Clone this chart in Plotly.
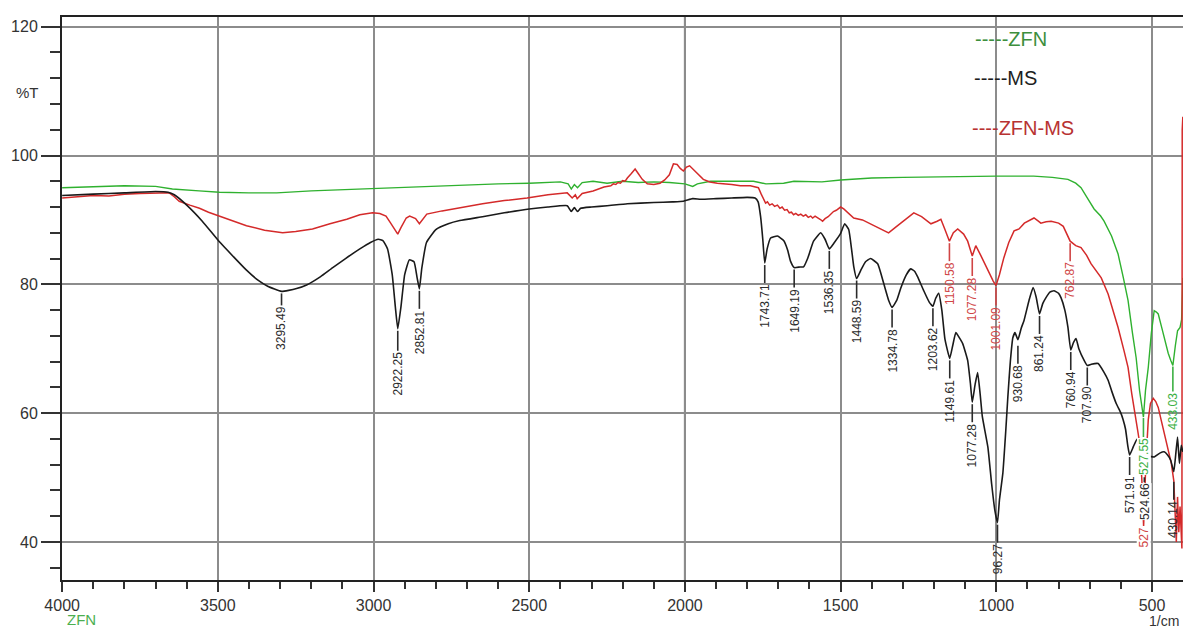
import numpy as np
import plotly.graph_objects as go

# ---- FTIR spectra: wavenumber (1/cm) and transmittance (%T) ----
ms_wn = [4000, 3900, 3800, 3700, 3660, 3640, 3600, 3550, 3495, 3450, 3408, 3370, 3340,
         3295.49, 3250, 3215, 3170, 3131, 3090, 3044, 3010, 2985, 2970, 2955, 2940, 2930,
         2922.25, 2912, 2900, 2885, 2870, 2860, 2852.81, 2845, 2830, 2800, 2760, 2723,
         2650, 2580, 2500, 2440, 2378, 2365, 2355, 2345, 2335, 2300, 2250, 2185, 2100,
         2040, 2005, 1975, 1950, 1900, 1850, 1800, 1775, 1765, 1757, 1750, 1743.71, 1736,
         1725, 1703, 1683, 1670, 1661, 1649.19, 1630, 1619, 1606, 1587, 1564, 1550,
         1536.35, 1520, 1500, 1487, 1474, 1465, 1458, 1448.59, 1435, 1420, 1404, 1381,
         1362, 1345, 1334.78, 1320, 1307, 1290, 1275, 1262, 1253, 1233, 1215, 1203.62,
         1195, 1185, 1175, 1165, 1149.61, 1140, 1130, 1120, 1108, 1092, 1083, 1077.28,
         1068, 1060, 1052, 1045, 1027, 1015, 1005, 996.27, 990, 979, 970, 963, 955, 947,
         940, 930.68, 920, 911, 895, 882, 872, 861.24, 851, 841, 828, 815, 800, 792, 780,
         770, 760.94, 752, 744, 735, 718, 707.90, 695, 673, 655, 641, 630, 615, 600, 593,
         585, 578, 571.91, 560, 548, 538, 530, 524.66, 510, 493, 475, 461, 450, 440,
         430.14, 425, 418, 412, 406, 401]
ms_t = [93.8, 94.0, 94.2, 94.4, 94.3, 93.9, 92.3, 89.8, 86.6, 84.3, 82.2, 80.6, 79.7,
        78.9, 79.3, 79.9, 81.2, 82.6, 84.0, 85.5, 86.5, 87.0, 86.8, 85.5, 81.5, 76.5,
        73.1, 76.5, 81.5, 83.8, 83.5, 81.0, 79.3, 82.5, 86.5, 88.5, 89.4, 89.9,
        90.5, 91.1, 91.7, 92.0, 92.2, 91.3, 91.9, 91.3, 91.8, 92.0, 92.2, 92.5, 92.7,
        92.8, 92.9, 93.3, 93.2, 93.3, 93.4, 93.5, 93.4, 92.8, 90.5, 87.0, 83.3, 85.5,
        87.2, 87.5, 86.8, 85.3, 83.6, 82.6, 82.7, 82.7, 84.0, 86.7, 88.0, 87.0,
        85.5, 86.5, 87.9, 89.4, 88.5, 85.5, 82.8, 80.9, 82.2, 83.5, 84.0, 83.2,
        80.2, 77.4, 76.4, 77.5, 79.4, 81.4, 82.4, 82.0, 81.2, 79.0, 77.2, 76.6,
        77.8, 78.6, 76.0, 71.5, 68.5, 70.5, 72.5, 71.8, 70.8, 68.2, 64.5, 61.7,
        64.5, 66.3, 63.0, 59.5, 54.7, 49.0, 45.0, 43.0, 46.5, 50.7, 57.0, 62.5, 68.0, 71.7,
        72.5, 71.4, 73.2, 74.4, 77.5, 79.5, 78.0, 75.4, 77.0, 77.9, 78.8, 79.0, 78.6, 77.9, 76.0,
        73.3, 69.8, 71.0, 71.6, 70.0, 68.2, 67.4, 67.6, 67.7, 66.4, 65.1, 63.5, 61.5, 60.0, 59.0,
        57.5, 55.0, 53.5, 54.8, 56.0, 54.5, 53.5, 53.0, 53.3, 53.2, 53.8, 54.0, 53.5, 52.7,
        50.9, 53.0, 56.3, 52.2, 55.0, 54.0]

zfn_wn = [4000, 3900, 3800, 3700, 3646, 3560, 3495, 3400, 3311, 3200, 3100, 3000, 2900,
          2800, 2700, 2600, 2500, 2400, 2375, 2365, 2355, 2345, 2330, 2295, 2250, 2200,
          2150, 2100, 2050, 2000, 1975, 1960, 1918, 1850, 1780, 1740, 1700, 1683, 1650,
          1600, 1560, 1500, 1468, 1400, 1300, 1200, 1100, 1000, 950, 880, 820, 770, 745,
          728, 705, 686, 665, 654, 630, 609, 592, 577, 563, 551, 540, 534, 527.55, 521,
          512, 502, 493, 486, 480, 470, 461, 448, 440, 433.03, 425, 418, 410, 405, 401]
zfn_t = [95.0, 95.1, 95.3, 95.2, 94.8, 94.5, 94.3, 94.2, 94.2, 94.5, 94.7, 94.9, 95.1,
         95.3, 95.4, 95.6, 95.7, 95.9, 95.6, 94.8, 95.5, 95.0, 95.8, 96.0, 95.7, 96.0,
         95.8, 95.9, 95.8, 95.6, 95.2, 95.6, 96.0, 96.0, 96.0, 95.6, 95.7, 95.7, 96.0,
         96.0, 95.9, 96.2, 96.3, 96.5, 96.6, 96.7, 96.8, 96.8, 96.8, 96.8, 96.6, 96.3, 95.7,
         95.0, 93.2, 91.7, 90.6, 89.8, 87.5, 84.7, 81.0, 77.5, 72.5, 68.6, 63.5, 61.5, 59.4, 63.5,
         67.1, 72.5, 75.9, 75.7, 75.4, 73.5, 71.7, 69.3, 68.2, 67.4, 70.5, 72.8, 73.3, 74.5, 81.0]

zfnms_wn = [4000, 3950, 3900, 3850, 3800, 3750, 3700, 3656, 3640, 3624, 3590, 3559, 3530,
            3495, 3450, 3408, 3350, 3292, 3250, 3196, 3140, 3086, 3044, 3003, 2980, 2960,
            2945, 2930, 2922.25, 2912, 2895, 2884, 2865, 2852.81, 2840, 2829, 2780, 2723,
            2650, 2580, 2507, 2440, 2378, 2362, 2352, 2346, 2330, 2295, 2260, 2238, 2230,
            2222, 2215, 2207, 2200, 2192, 2185, 2172, 2160, 2150, 2137, 2121, 2100, 2080,
            2065, 2050, 2037, 2025, 2015, 2005, 1995, 1985, 1976, 1965, 1955, 1941, 1920,
            1896, 1850, 1822, 1790, 1764, 1755, 1741, 1735, 1728, 1720, 1712, 1703, 1695,
            1688, 1680, 1672, 1665, 1658, 1651, 1644, 1636, 1628, 1620, 1612, 1604, 1596,
            1590, 1582, 1574, 1566, 1558, 1550, 1540, 1532, 1523, 1514, 1506, 1500, 1490,
            1475, 1458, 1430, 1404, 1375, 1346, 1320, 1290, 1265, 1240, 1210, 1190, 1178,
            1165, 1150.58, 1138, 1124, 1105, 1092, 1077.28, 1066, 1050, 1027, 1010, 1001.09,
            990, 976, 960, 943, 927, 910, 879, 865, 857, 840, 824, 800, 785, 762.87, 745,
            728, 710, 696, 680, 663, 641, 625, 609, 590, 577, 565, 557, 548, 541, 533, 527,
            520, 512, 505, 496, 488, 480, 470, 461, 450, 438, 430, 425, 422, 418, 414, 410,
            406, 404, 403, 401]
zfnms_t = [93.4, 93.6, 93.8, 93.7, 94.0, 94.1, 94.2, 94.2, 93.6, 92.9, 92.3, 91.8, 91.2,
           90.6, 89.9, 89.1, 88.4, 88.0, 88.2, 88.6, 89.4, 90.1, 90.8, 91.1, 91.0, 90.6,
           89.5, 88.3, 87.8, 88.8, 90.3, 90.6, 90.2, 89.4, 90.3, 90.9, 91.4, 91.9,
           92.5, 93.0, 93.4, 93.9, 94.2, 93.4, 93.9, 93.3, 94.1, 94.5, 95.1, 95.3, 95.6,
           95.5, 95.8, 95.7, 96.1, 96.0, 96.5, 97.2, 97.9, 97.2, 96.3, 95.6, 95.5, 95.7,
           96.2, 97.0, 98.7, 98.6, 98.0, 97.6, 98.2, 98.4, 98.0, 97.4, 97.0, 96.3, 95.9,
           95.7, 95.5, 95.3, 95.3, 95.0, 94.0, 92.6, 92.8, 92.3, 92.5, 92.1, 92.3, 91.8,
           92.0, 91.5, 91.6, 91.1, 91.2, 90.8, 91.0, 90.7, 90.9, 90.6, 90.8, 90.4, 90.6,
           90.3, 90.6, 90.4, 90.1, 89.8, 90.2, 90.5, 90.9, 91.3, 91.5, 91.8, 92.0, 91.7,
           91.0, 90.3, 90.0, 89.4, 88.7, 88.0, 89.0, 90.2, 91.1, 90.5, 89.4, 89.8, 90.1,
           88.5, 86.7, 88.0, 88.6, 87.8, 86.7, 84.4, 86.0, 84.5, 82.1, 80.5, 79.8,
           81.5, 84.1, 86.5, 88.3, 88.6, 89.5, 90.3, 89.8, 89.5, 89.7, 89.8, 89.5, 89.0, 86.7, 86.0,
           85.7, 84.5, 83.2, 82.2, 81.0, 78.5, 76.0, 73.3, 69.7, 67.1, 63.0, 60.4, 57.5, 55.8, 50.0, 42.5,
           52.0, 59.0, 61.5, 62.3, 61.8, 60.9, 58.8, 56.9, 54.5, 52.2, 49.5, 44.0, 40.0, 47.0, 41.5, 45.5,
           40.0, 39.0, 104.0, 106.0]

# ---- peak labels ----
ms_peaks = [3295.49, 2922.25, 2852.81, 1743.71, 1649.19, 1536.35, 1448.59, 1334.78,
            1203.62, 1149.61, 1077.28, 996.27, 930.68, 861.24, 760.94, 707.90, 571.91,
            524.66, 430.14]
ms_peak_text = ["3295.49", "2922.25", "2852.81", "1743.71", "1649.19", "1536.35",
                "1448.59", "1334.78", "1203.62", "1149.61", "1077.28", "96.27", "930.68",
                "861.24", "760.94", "707.90", "571.91", "524.66", "430.14"]
zfn_peaks = [527.55, 433.03]
zfn_peak_text = ["527.55", "433.03"]
zfnms_peaks = [1150.58, 1077.28, 1001.09, 762.87, 527]
zfnms_peak_text = ["1150.58", "1077.28", "1001.09", "762.87", "527"]

FONT = "Liberation Sans, Arial, sans-serif"
C_MS, C_ZFN, C_ZFNMS = "#1a1a1a", "#2fb12f", "#d42a2a"
T_MS, T_ZFN, T_ZFNMS = "#2b2b2b", "#3cb043", "#d04545"

Y_RANGE = [34.1, 121.5]
PLOT_H = 628 - 17 - 48
T_PER_PX = (Y_RANGE[1] - Y_RANGE[0]) / PLOT_H

fig = go.Figure()
fig.add_trace(go.Scatter(x=zfn_wn, y=zfn_t, mode="lines", name="ZFN",
                         line=dict(color=C_ZFN, width=1.4)))
fig.add_trace(go.Scatter(x=zfnms_wn, y=zfnms_t, mode="lines", name="ZFN-MS",
                         line=dict(color=C_ZFNMS, width=1.5)))
fig.add_trace(go.Scatter(x=ms_wn, y=ms_t, mode="lines", name="MS",
                         line=dict(color=C_MS, width=1.6, shape="spline", smoothing=0.4)))

# heavier reference line at 2000 1/cm
fig.add_shape(type="line", xref="x", yref="paper", x0=2000, x1=2000, y0=0, y1=1,
              line=dict(color="#111111", width=2), layer="below")


def label_peaks(wn, t, peaks, texts, color, gaps=None, dashes=None, boxed=()):
    """Vertical peak label: a short tick under the band, then the rotated value."""
    gaps = gaps or {}
    dashes = dashes or {}
    asc_x = np.array(wn[::-1], dtype=float)
    asc_y = np.array(t[::-1], dtype=float)
    for p, s in zip(peaks, texts):
        y = float(np.interp(p, asc_x, asc_y))
        g = gaps.get(s, 2)
        d = dashes.get(s, 18)
        if d > 0:
            fig.add_shape(type="line", xref="x", yref="y", x0=p, x1=p,
                          y0=y - g * T_PER_PX, y1=y - (g + d) * T_PER_PX,
                          line=dict(color=color, width=1.6))
        fig.add_annotation(
            x=p, y=y, text=s, textangle=-90,
            xanchor="center", yanchor="top", yshift=-(g + d + 1), showarrow=False,
            bgcolor="white" if s in boxed else None, borderpad=0, borderwidth=0,
            font=dict(family=FONT, size=12, color=color))


label_peaks(ms_wn, ms_t, ms_peaks, ms_peak_text, T_MS,
            gaps={"524.66": 19, "430.14": 10, "930.68": 6},
            dashes={"524.66": 5, "2922.25": 20, "3295.49": 12},
            boxed=("524.66",))
label_peaks(zfn_wn, zfn_t, zfn_peaks, zfn_peak_text, T_ZFN,
            gaps={"527.55": 1, "433.03": 1},
            dashes={"527.55": 19, "433.03": 25},
            boxed=("527.55",))
label_peaks(zfnms_wn, zfnms_t, zfnms_peaks, zfnms_peak_text, T_ZFNMS,
            gaps={"527": 1}, dashes={"527": 0}, boxed=("527",))

# series key written inside the plot
key = [("-----ZFN", 953, 118.1, "#3d8f3d"),
       ("-----MS", 969, 112.1, "#1e1e1e"),
       ("----ZFN-MS", 915, 104.3, "#b83232")]
for txt, kx, ky, kc in key:
    fig.add_annotation(x=kx, y=ky, text=txt, showarrow=False, xanchor="center",
                       yanchor="middle", font=dict(family=FONT, size=20, color=kc))

fig.add_annotation(xref="paper", yref="y", x=-0.031, y=109.8, text="%T", showarrow=False,
                   xanchor="center", yanchor="middle",
                   font=dict(family=FONT, size=15, color="#333333"))
fig.add_annotation(xref="paper", yref="paper", x=0.017, y=-0.071, text="ZFN", showarrow=False,
                   xanchor="center", yanchor="middle",
                   font=dict(family=FONT, size=15, color="#4caf50"))
fig.add_annotation(xref="paper", yref="paper", x=0.983, y=-0.072, text="1/cm", showarrow=False,
                   xanchor="center", yanchor="middle",
                   font=dict(family=FONT, size=14, color="#333333"))

fig.update_layout(
    width=1184, height=628,
    margin=dict(l=62, r=1, t=17, b=48),
    paper_bgcolor="white", plot_bgcolor="white",
    showlegend=False,
    font=dict(family=FONT, color="#333333"),
)
fig.update_xaxes(
    range=[4000.5, 400.5], dtick=500, tick0=0,
    ticks="outside", ticklen=10, tickwidth=2, tickcolor="#333333",
    minor=dict(dtick=100, tick0=0, ticks="outside", ticklen=7, tickwidth=2,
               tickcolor="#333333", showgrid=False),
    showline=True, linecolor="#222222", linewidth=2, mirror=True,
    showgrid=True, gridcolor="#8c8c8c", gridwidth=1.5, zeroline=False,
    tickfont=dict(family=FONT, size=16, color="#333333"),
)
fig.update_yaxes(
    range=Y_RANGE, dtick=20, tick0=0,
    ticks="outside", ticklen=19, tickwidth=2, tickcolor="#333333",
    minor=dict(dtick=4, tick0=0, ticks="outside", ticklen=10, tickwidth=2,
               tickcolor="#333333", showgrid=False),
    showline=True, linecolor="#222222", linewidth=2,
    showgrid=True, gridcolor="#8c8c8c", gridwidth=1.5, zeroline=False,
    tickfont=dict(family=FONT, size=16, color="#333333"),
)

fig.write_html("out.html")
